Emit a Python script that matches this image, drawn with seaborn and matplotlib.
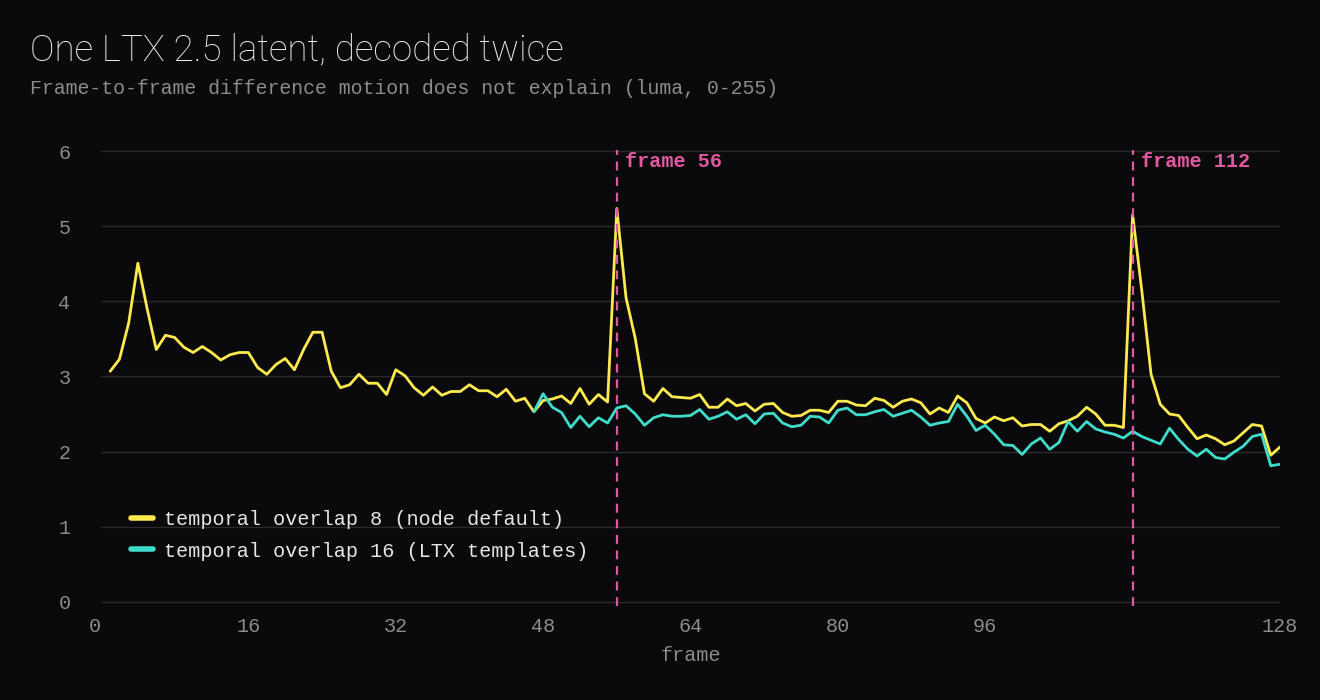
import numpy as np
import pandas as pd
import seaborn as sns
import matplotlib.pyplot as plt

# frames 1..128, temporal overlap 8 (node default)
overlap8 = [
    3.07, 3.23, 3.71, 4.51, 3.91, 3.36, 3.55, 3.52, 3.39, 3.32,
    3.40, 3.32, 3.22, 3.29, 3.32, 3.32, 3.12, 3.03, 3.16, 3.24,
    3.09, 3.36, 3.59, 3.59, 3.07, 2.85, 2.89, 3.03, 2.91, 2.91,
    2.76, 3.09, 3.01, 2.85, 2.75, 2.86, 2.75, 2.80, 2.80, 2.89,
    2.81, 2.81, 2.73, 2.83, 2.67, 2.71, 2.53, 2.68, 2.70, 2.74,
    2.64, 2.84, 2.63, 2.76, 2.66, 5.24, 4.05, 3.51, 2.77, 2.67,
    2.84, 2.73, 2.72, 2.71, 2.76, 2.59, 2.59, 2.70, 2.61, 2.64,
    2.54, 2.63, 2.64, 2.52, 2.47, 2.48, 2.55, 2.55, 2.52, 2.67,
    2.67, 2.62, 2.61, 2.71, 2.68, 2.59, 2.67, 2.70, 2.65, 2.50,
    2.58, 2.52, 2.74, 2.65, 2.44, 2.38, 2.46, 2.41, 2.45, 2.34,
    2.36, 2.36, 2.27, 2.37, 2.41, 2.47, 2.59, 2.50, 2.35, 2.35,
    2.32, 5.16, 4.14, 3.03, 2.63, 2.50, 2.48, 2.32, 2.17, 2.22,
    2.17, 2.09, 2.14, 2.25, 2.36, 2.34, 1.95, 2.06,
]
frames8 = list(range(1, 129))

# frames 47..128, temporal overlap 16 (same as overlap 8 before frame 47)
overlap16 = [
    2.53, 2.77, 2.59, 2.52, 2.32, 2.47, 2.33, 2.45, 2.38, 2.58,
    2.61, 2.50, 2.35, 2.45, 2.49, 2.47, 2.47, 2.48, 2.56, 2.43,
    2.47, 2.53, 2.43, 2.49, 2.37, 2.50, 2.51, 2.38, 2.33, 2.35,
    2.47, 2.46, 2.38, 2.55, 2.58, 2.49, 2.49, 2.53, 2.56, 2.47,
    2.51, 2.55, 2.46, 2.35, 2.38, 2.40, 2.63, 2.47, 2.28, 2.35,
    2.23, 2.09, 2.08, 1.96, 2.10, 2.18, 2.03, 2.12, 2.40, 2.27,
    2.40, 2.30, 2.26, 2.23, 2.18, 2.27, 2.20, 2.15, 2.10, 2.31,
    2.16, 2.03, 1.94, 2.03, 1.92, 1.90, 1.99, 2.07, 2.20, 2.23,
    1.81, 1.83,
]
frames16 = list(range(47, 129))

series_names = ["temporal overlap 8 (node default)",
                "temporal overlap 16 (LTX templates)"]
marked_frames = [56, 112]
x_ticks = [0, 16, 32, 48, 64, 80, 96, 128]

df = pd.concat([
    pd.DataFrame({"frame": frames8, "diff": overlap8, "series": series_names[0]}),
    pd.DataFrame({"frame": frames16, "diff": overlap16, "series": series_names[1]}),
])

bg = "#0a0a0c"
mono = ["Liberation Mono", "DejaVu Sans Mono"]

sns.set_theme(style="dark")
plt.rcParams["font.family"] = mono

fig = plt.figure(figsize=(13.2, 7), dpi=100, facecolor=bg)
ax = fig.add_axes([101 / 1320, 1 - 606 / 700, 1179 / 1320, 456 / 700])
ax.set_facecolor(bg)

sns.lineplot(data=df, x="frame", y="diff", hue="series", hue_order=series_names,
             palette=["#fdea4f", "#3fdccb"], linewidth=2.0, ax=ax, zorder=3)

for f in marked_frames:
    ax.axvline(f, color="#e0589f", linewidth=1.6, dashes=(4, 3), zorder=4)
    ax.text(f + 0.9, 5.86, f"frame {f}", color="#e0589f", fontsize=14.5,
            fontweight="bold", family=mono, va="center", ha="left")

ax.set_xlim(0, 128)
ax.set_ylim(-0.06, 6.02)
ax.set_yticks(range(0, 7))
ax.set_xticks(x_ticks)
ax.grid(axis="y", color="#2b2b2e", linewidth=1.0)
ax.grid(axis="x", visible=False)
for s in ax.spines.values():
    s.set_visible(False)
ax.tick_params(axis="both", length=0, labelcolor="#8c8c8c", labelsize=14.5)
ax.tick_params(axis="y", pad=22)
ax.tick_params(axis="x", pad=8)
ax.get_xticklabels()[0].set_ha("right")

ax.set_xlabel("frame", color="#8c8c8c", fontsize=14.5, labelpad=7)
ax.set_ylabel("")

leg = ax.legend(loc="lower left", bbox_to_anchor=(0.010, 0.06), frameon=False,
                fontsize=14.5, handlelength=1.1, handletextpad=0.55,
                labelspacing=0.6)
for h in leg.get_lines():
    h.set_linewidth(4)
for t in leg.get_texts():
    t.set_color("#e6e6e6")

fig.text(30 / 1320, 1 - 50 / 700, "One LTX 2.5 latent, decoded twice",
         color="#f0f0f0", fontsize=26.5, fontweight="light",
         family=["Roboto", "DejaVu Sans"], va="center", ha="left")
fig.text(30 / 1320, 1 - 88 / 700,
         "Frame-to-frame difference motion does not explain (luma, 0-255)",
         color="#8c8c8c", fontsize=14.3, family=mono, va="center", ha="left")

fig.savefig("out.png", dpi=100, facecolor=bg)
